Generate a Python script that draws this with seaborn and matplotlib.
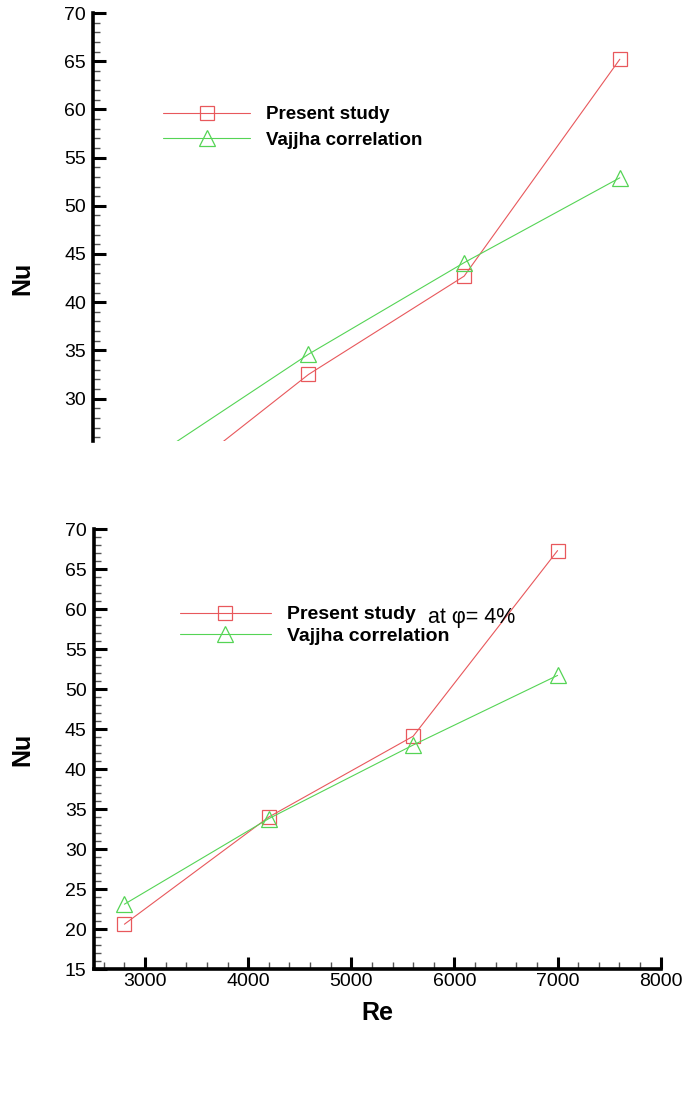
import matplotlib
matplotlib.use("Agg")
import matplotlib.pyplot as plt
from matplotlib.ticker import MultipleLocator
import seaborn as sns

# upper panel (cropped in the source, its Re axis is not visible)
top_re = [3080, 4590, 6100, 7610]
top_present = [19.8, 32.5, 42.7, 65.2]
top_vajjha = [23.9, 34.6, 44.1, 52.9]

# lower panel, phi = 4 %
re = [2800, 4200, 5600, 7000]
present = [20.6, 34.0, 44.1, 67.3]
vajjha = [23.1, 33.8, 43.0, 51.7]

names = ["Present study", "Vajjha correlation"]
RED = "#e8585c"
GREEN = "#55d455"

sns.set_style("ticks", {"axes.edgecolor": "black", "xtick.color": "black",
                        "ytick.color": "black", "text.color": "black",
                        "axes.labelcolor": "black"})
plt.rcParams["font.family"] = ["Liberation Sans", "DejaVu Sans"]


def draw_series(ax, x, p, v):
    sns.lineplot(x=x, y=p, ax=ax, color=RED, lw=0.8, marker="s", ms=9.5,
                 mfc="none", mec=RED, mew=0.9, label=names[0])
    sns.lineplot(x=x, y=v, ax=ax, color=GREEN, lw=0.8, marker="^", ms=11,
                 mfc="none", mec=GREEN, mew=0.9, label=names[1])


def style_axis(ax):
    for s in ["top", "right"]:
        ax.spines[s].set_visible(False)
    ax.spines["left"].set_linewidth(2.6)
    ax.spines["bottom"].set_linewidth(2.6)
    ax.yaxis.set_major_locator(MultipleLocator(5))
    ax.yaxis.set_minor_locator(MultipleLocator(1))
    ax.tick_params(axis="both", which="major", direction="in", length=9,
                   width=2.2, color="black", labelcolor="black",
                   labelsize=14, pad=5)
    ax.tick_params(axis="both", which="minor", direction="in", length=5,
                   width=1.0, color="#555555")
    ax.set_ylabel("Nu", fontsize=18, fontweight="bold", color="black")


fig = plt.figure(figsize=(7, 11.13), dpi=100)

# ---- upper panel ----
ax1 = fig.add_axes([93 / 700, 1 - 441 / 1113, 567 / 700, 428 / 1113])
draw_series(ax1, top_re, top_present, top_vajjha)
style_axis(ax1)
ax1.set_xlim(2500, 8000)
ax1.set_ylim(25.6, 70)
ax1.spines["bottom"].set_visible(False)
ax1.set_xticks([])
ax1.set_xlabel("")
ax1.yaxis.set_label_coords(-0.104, 0.381)
ax1.legend(loc="upper left", bbox_to_anchor=(0.1235, 0.782), frameon=False,
           handlelength=4.64, handletextpad=0.85, labelspacing=0.43,
           borderpad=0, borderaxespad=0,
           prop=dict(weight="bold", size=13.5))

# ---- lower panel ----
ax2 = fig.add_axes([93.5 / 700, 1 - 969 / 1113, 567.2 / 700, 440 / 1113])
draw_series(ax2, re, present, vajjha)
style_axis(ax2)
ax2.set_xlim(2500, 8000)
ax2.set_ylim(15, 70)
ax2.xaxis.set_major_locator(MultipleLocator(1000))
ax2.xaxis.set_minor_locator(MultipleLocator(200))
ax2.tick_params(axis="x", which="major", pad=3)
ax2.set_xlabel("Re", fontsize=18, fontweight="bold", labelpad=8,
               color="black")
ax2.yaxis.set_label_coords(-0.104, 0.5)
ax2.legend(loc="upper left", bbox_to_anchor=(0.1525, 0.8255), frameon=False,
           handlelength=4.68, handletextpad=0.82, labelspacing=0.18,
           borderpad=0, borderaxespad=0,
           prop=dict(weight="bold", size=14))
ax2.text(5741, 58.25, "at φ= 4%", fontsize=15.5, va="baseline", ha="left")

fig.savefig("out.png", dpi=100)
